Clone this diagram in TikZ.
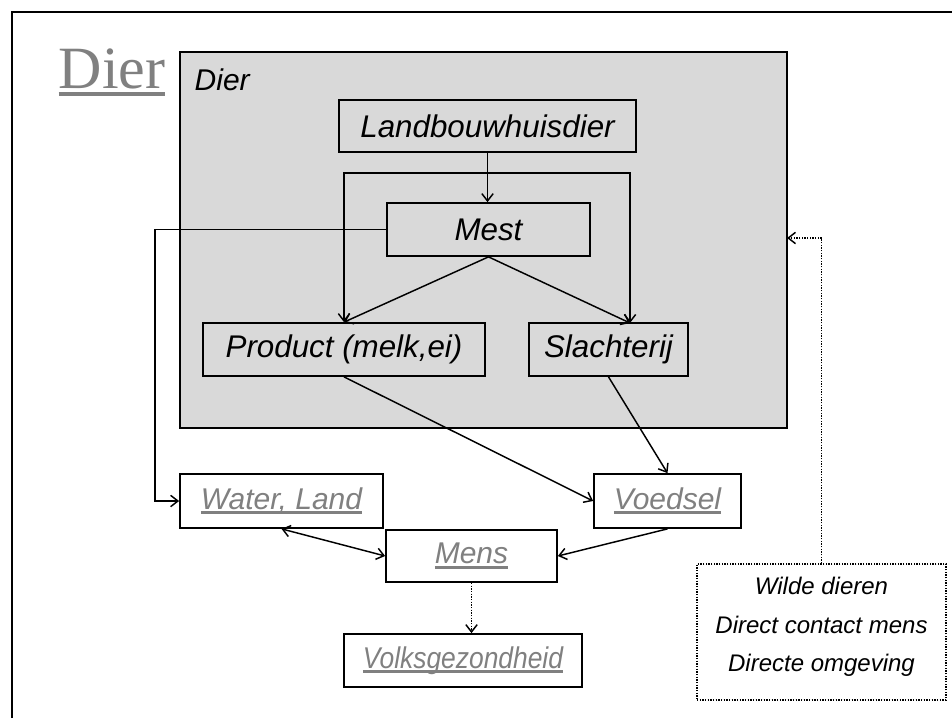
\documentclass[tikz,border=0pt]{standalone}
\usepackage{fontspec}
\setmainfont{Liberation Sans}
\newfontfamily\titlefont{Liberation Serif}
\usetikzlibrary{arrows.meta}
\definecolor{panelgray}{HTML}{D9D9D9}
\definecolor{txtgray}{HTML}{808080}
% thick underline in the current colour
\newcommand\grayul[1]{\setbox0=\hbox{#1}\rlap{\rule[-3.6pt]{\wd0}{2.2pt}}\box0}
\newcommand\titleul[1]{\setbox0=\hbox{#1}\rlap{\rule[-5.5pt]{\wd0}{3pt}}\box0}
\begin{document}
\begin{tikzpicture}[x=0.75pt,y=-0.75pt,
  >={Straight Barb[length=5.5pt,width=8.5pt]},
  size/.style 2 args={minimum width=#1*0.75pt, minimum height=#2*0.75pt},
  boxtext/.style={font=\fontsize{23.5}{28}\selectfont\itshape},
  box/.style={draw, line width=1.3pt, inner sep=0pt, boxtext},
  gbox/.style={box, fill=white, text=txtgray, font=\fontsize{22.5}{27}\selectfont\itshape},
  panel/.style={draw, line width=1.5pt, fill=panelgray, inner sep=0pt},
  dotbox/.style={draw, line width=1pt, dash pattern=on 1pt off 1pt, fill=white, inner sep=0pt},
  conn/.style={line width=1.1pt},
  arr/.style={conn, ->},
  dotarr/.style={conn, dash pattern=on 1pt off 1pt, ->}]
\useasboundingbox (0,0) rectangle (952,718);

% open frame along the top and left
\draw[line width=1.6pt] (12,718) -- (12,12) -- (952,12);

% title
\node[text=txtgray, font=\titlefont\fontsize{45}{50}\selectfont] (title) at (112,72) {\titleul{Dier}};

% grey panel with its own caption
\node[panel, size={607}{376}] (dier) at (483.5,240) {};
\node[anchor=west, font=\fontsize{22.5}{27}\selectfont\itshape] (dierlabel) at (190,80) {Dier};

% boxes inside the panel
\node[box, size={297}{52}] (lb) at (487.5,126) {Landbouwhuisdier};
\node[box, size={203}{53}] (mest) at (488.5,229.5) {Mest};
\node[box, size={282}{53}] (pr) at (344,349.5) {Product (melk,ei)};
\node[box, size={159}{53}] (sl) at (608.5,349.5) {Slachterij};

% boxes below the panel
\node[gbox, size={203}{54}] (wl) at (281.5,501) {\grayul{Water, Land}};
\node[gbox, size={147}{54}] (vo) at (667.5,501) {\grayul{Voedsel}};
\node[gbox, size={171}{52}] (me) at (471.5,556) {\grayul{Mens}};
\node[gbox, size={238}{53}] (vg) at (463,660.5) {\scalebox{0.88}[1]{\grayul{Volksgezondheid}}};

% other sources
\node[dotbox, size={249}{136}] (wd) at (821.5,632) {};
\node[align=center, font=\fontsize{18}{29}\selectfont\itshape] (wdtext) at (821.5,627)
  {Wilde dieren\\Direct contact mens\\Directe omgeving};

% helper points
\coordinate (split) at (487.5,173);
\coordinate (slin) at (630,323);
\coordinate (bend) at (155,229.5);
\coordinate (fb) at (787,238);

% connectors in the panel
\draw[arr] (lb.south) -- (lb.south |- mest.north);
\draw[arr] (split) -| (pr.north);
\draw[arr] (split) -| (slin);
\draw[arr] (mest.south) -- (pr.north);
\draw[arr] (mest.south) -- (slin);

% connectors to the lower boxes
\draw[arr] (mest.west) -- (bend) |- (wl.west);
\draw[arr] (pr.south) -- (vo.west);
\draw[arr] (sl.south) -- (vo.north);
\draw[arr] (vo.south) -- (me.east);
\draw[conn, <->] (wl.south) -- (me.west);
\draw[dotarr] (me.south) -- (me.south |- vg.north);
\draw[dotarr] (wd.north) |- (fb);
\end{tikzpicture}
\end{document}
